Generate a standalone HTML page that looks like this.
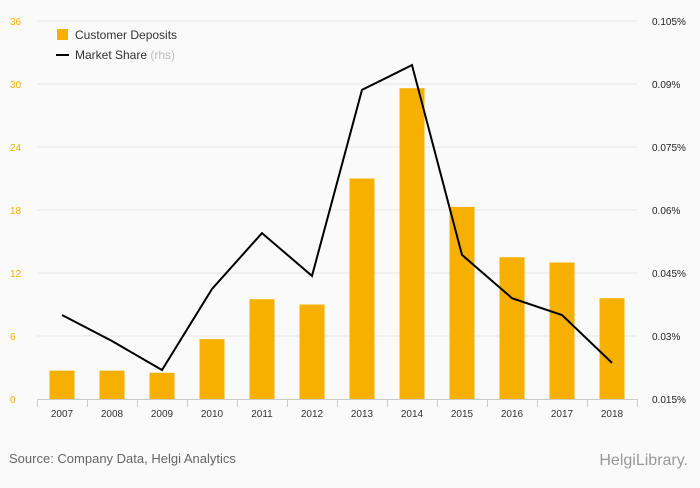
<!DOCTYPE html>
<html><head><meta charset="utf-8"><style>
body{margin:0;background:#fafafa;font-family:"Liberation Sans",sans-serif}
#wrap{position:relative;width:700px;height:483px;background:#fafafa}
</style></head><body>
<div id="wrap">
<svg id="chart" width="700" height="483" xmlns="http://www.w3.org/2000/svg">
<text x="9" y="463" font-size="13" fill="#666">Source: Company Data, Helgi Analytics</text>
<text x="688" y="465" font-size="16" fill="#999" text-anchor="end">HelgiLibrary.</text>
<g id="grid"></g><g id="bars"></g><g id="line"></g><g id="axes"></g>
<rect x="57" y="29" width="11" height="11" fill="#f8b000"/>
<text x="75" y="39" font-size="12" fill="#333">Customer Deposits</text>
<line x1="56" y1="55" x2="69" y2="55" stroke="#000" stroke-width="2"/>
<text x="75" y="59" font-size="12" fill="#333">Market Share <tspan fill="#bbb">(rhs)</tspan></text>
</svg></div>
<script>
const years=["2007","2008","2009","2010","2011","2012","2013","2014","2015","2016","2017","2018"];
const deposits=[2.7,2.7,2.5,5.7,9.5,9.0,21.0,29.6,18.3,13.5,13.0,9.6];
const marketShare=[0.0350,0.0288,0.0219,0.0412,0.0545,0.0443,0.0886,0.0945,0.0493,0.0390,0.0350,0.0236];
const leftTicks=[0,6,12,18,24,30,36];
const rightTicks=[0.015,0.03,0.045,0.06,0.075,0.09,0.105];
const rightLabels=["0.015%","0.03%","0.045%","0.06%","0.075%","0.09%","0.105%"];
const NS="http://www.w3.org/2000/svg";
const x0=37,step=50,yB=399,yT=21;
const xC=i=>x0+step*(i+0.5);
const yL=v=>yB-(v/36)*(yB-yT);
const yR=v=>yB-((v-0.015)/0.09)*(yB-yT);
function mk(p,t,a){const e=document.createElementNS(NS,t);for(const k in a)e.setAttribute(k,a[k]);p.appendChild(e);return e;}
const g=document.getElementById('grid'),b=document.getElementById('bars'),l=document.getElementById('line'),ax=document.getElementById('axes');
leftTicks.forEach((t,i)=>{
 const y=yL(t);
 if(t>0){const gl=mk(g,'line',{x1:x0,x2:637,y1:y,y2:y,stroke:'#e6e6e6','stroke-width':1});
 
 }
 const tx=mk(ax,'text',{x:10,y:y+4,'font-size':10,fill:'#f8b000'});tx.textContent=t;
 
 
});
rightTicks.forEach((t,i)=>{
 const tx=mk(ax,'text',{x:652,y:yR(t)+4,'font-size':10,fill:'#222'});tx.textContent=rightLabels[i];
 
 
});
const base=mk(ax,'line',{x1:x0,x2:637,y1:yB+0.5,y2:yB+0.5,stroke:'#ccc'});


years.forEach((yr,i)=>{
 const tk=mk(ax,'line',{x1:x0+step*i+0.5,x2:x0+step*i+0.5,y1:yB,y2:yB+8,stroke:'#ccc'});
 
 
 const tx=mk(ax,'text',{x:xC(i),y:yB+18,'font-size':10,fill:'#333','text-anchor':'middle'});tx.textContent=yr;
 
 
 const r=mk(b,'rect',{x:xC(i)-12.5,y:yL(deposits[i]),width:25,height:yB-yL(deposits[i]),fill:'#f8b000'});
 
 
});
const endT=mk(ax,'line',{x1:637.5,x2:637.5,y1:yB,y2:yB+8,stroke:'#ccc'});


const pl=mk(l,'polyline',{points:marketShare.map((v,i)=>xC(i)+','+yR(v)).join(' '),fill:'none',stroke:'#000','stroke-width':2});


</script>
</body></html>
